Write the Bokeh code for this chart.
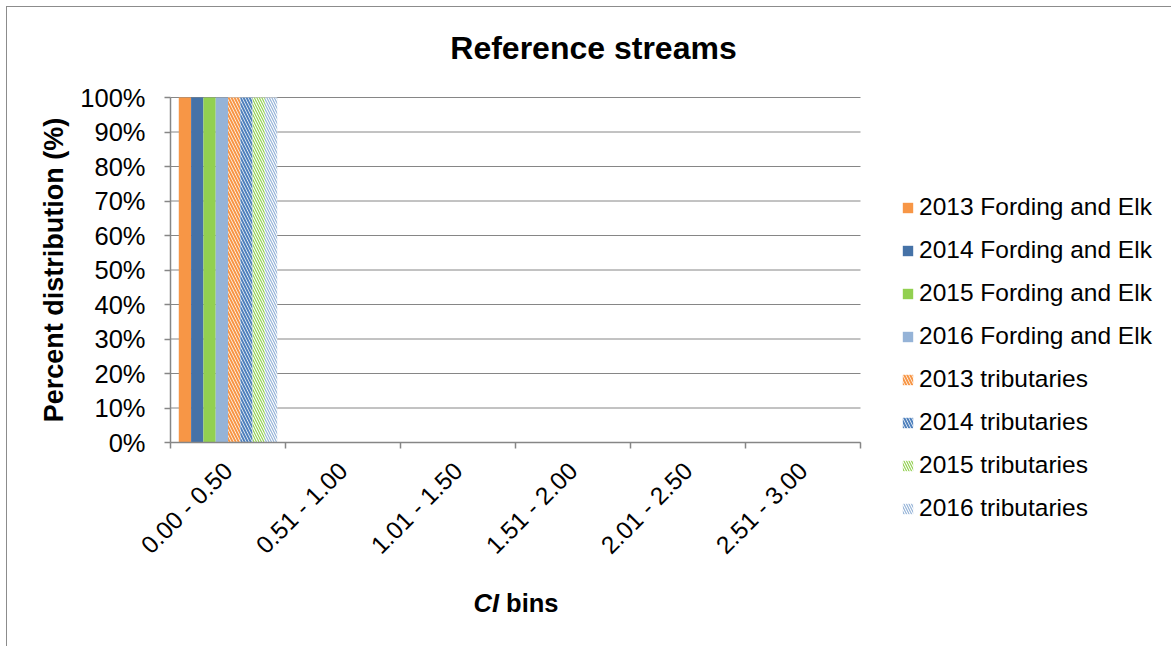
import math
from bokeh.plotting import figure
from bokeh.models import Range1d, FixedTicker, Legend, LegendItem, Label
from bokeh.embed import file_html
from bokeh.resources import INLINE

# ---------------- data ----------------
bins = ["0.00 - 0.50", "0.51 - 1.00", "1.01 - 1.50", "1.51 - 2.00", "2.01 - 2.50", "2.51 - 3.00"]
series_names = [
    "2013 Fording and Elk", "2014 Fording and Elk", "2015 Fording and Elk", "2016 Fording and Elk",
    "2013 tributaries", "2014 tributaries", "2015 tributaries", "2016 tributaries",
]
fe_2013 = [100, 0, 0, 0, 0, 0]
fe_2014 = [100, 0, 0, 0, 0, 0]
fe_2015 = [100, 0, 0, 0, 0, 0]
fe_2016 = [100, 0, 0, 0, 0, 0]
trib_2013 = [100, 0, 0, 0, 0, 0]
trib_2014 = [100, 0, 0, 0, 0, 0]
trib_2015 = [100, 0, 0, 0, 0, 0]
trib_2016 = [100, 0, 0, 0, 0, 0]
series_values = [fe_2013, fe_2014, fe_2015, fe_2016, trib_2013, trib_2014, trib_2015, trib_2016]
y_ticks = [0, 10, 20, 30, 40, 50, 60, 70, 80, 90, 100]
y_tick_labels = [f"{t}%" for t in y_ticks]
title_text = "Reference streams"
y_title = "Percent distribution (%)"

# ---------------- layout / styles ----------------
FONT = "Liberation Sans"
GRAY = "#868686"
styles = [
    dict(fill_color="#F79646"),
    dict(fill_color="#4572A7"),
    dict(fill_color="#92D050"),
    dict(fill_color="#95B3D7"),
    dict(fill_color="white", hatch_pattern="\\", hatch_color="#F79646", hatch_weight=2.0, hatch_scale=6),
    dict(fill_color="white", hatch_pattern="\\", hatch_color="#4F81BD", hatch_weight=2.0, hatch_scale=6),
    dict(fill_color="white", hatch_pattern="\\", hatch_color="#92D050", hatch_weight=1.2, hatch_scale=5),
    dict(fill_color="white", hatch_pattern="\\", hatch_color="#95B3D7", hatch_weight=1.2, hatch_scale=5),
]

OFF = 7                      # figure offset from page corner (outer chart border)
W, H = 1171 - OFF, 646 - OFF
# plot area in figure pixels
PL, PR, PT, PB = 170 - OFF, 860 - OFF, 97 - OFF, 442 - OFF
ncat = len(bins)
xpp = (PR - PL) / ncat                 # pixels per category
ypp = (PB - PT) / 100.0                # pixels per percent
x0 = -0.5 - PL / xpp
x1 = ncat - 0.5 + (W - PR) / xpp
y0 = 0 - (H - PB) / ypp
y1 = 100 + PT / ypp

p = figure(width=W, height=H, output_backend="svg", toolbar_location=None, title=None,
           x_range=Range1d(x0, x1), y_range=Range1d(y0, y1), min_border=0)
p.margin = (OFF, 0, 0, OFF)
p.outline_line_color = None
p.background_fill_color = "white"
p.border_fill_color = "white"
p.styles = {"outline": "1.5px solid #8c8c8c"}
p.xgrid.visible = False
p.ygrid.visible = False

# horizontal gridlines across the plot area only
p.segment(x0=[-0.5] * len(y_ticks), x1=[ncat - 0.5] * len(y_ticks), y0=y_ticks, y1=y_ticks,
          line_color=GRAY, line_width=1, level="underlay")

n = len(series_names)
bw = 0.107
xs = list(range(ncat))
items = []
for j, (name, vals, st) in enumerate(zip(series_names, series_values, styles)):
    off = bw * (j - (n - 1) / 2)
    r = p.vbar(x=[x + off for x in xs], top=vals, width=bw, bottom=0, line_color=None, **st)
    items.append(LegendItem(label=name, renderers=[r]))

# x axis (category ticks at the boundaries, labels centred)
xa = p.xaxis[0]
xa.fixed_location = 0
xa.bounds = (-0.5, ncat - 0.5)
xa.ticker = FixedTicker(ticks=xs, minor_ticks=[x - 0.5 for x in xs] + [ncat - 0.5])
xa.major_label_overrides = {i: b for i, b in enumerate(bins)}
xa.major_label_orientation = math.pi / 4
xa.major_tick_in = 0
xa.major_tick_out = 0
xa.minor_tick_in = 0
xa.minor_tick_out = 6
xa.minor_tick_line_color = GRAY
xa.minor_tick_line_width = 1.5
xa.axis_line_color = GRAY
xa.axis_line_width = 1.5
xa.major_label_text_font = FONT
xa.major_label_text_font_size = "24.5px"
xa.major_label_text_color = "black"
xa.major_label_standoff = 18

# y axis
ya = p.yaxis[0]
ya.fixed_location = -0.5
ya.bounds = (0, 100)
ya.ticker = FixedTicker(ticks=y_ticks, minor_ticks=[])
ya.major_label_overrides = {t: l for t, l in zip(y_ticks, y_tick_labels)}
ya.major_tick_in = 0
ya.major_tick_out = 6
ya.major_tick_line_color = GRAY
ya.major_tick_line_width = 1.5
ya.axis_line_color = GRAY
ya.axis_line_width = 1.5
ya.major_label_text_font = FONT
ya.major_label_text_font_size = "25.5px"
ya.major_label_text_color = "black"
ya.major_label_standoff = 19
ya.axis_label = y_title
ya.axis_label_text_font = FONT
ya.axis_label_text_font_size = "27px"
ya.axis_label_text_font_style = "bold"
ya.axis_label_text_color = "black"
ya.axis_label_standoff = 8

# chart title
p.add_layout(Label(x=593 - OFF, y=H - (47 - OFF), x_units="screen", y_units="screen",
                   text=title_text, text_align="center", text_baseline="middle",
                   text_font=FONT, text_font_size="32px", text_font_style="bold",
                   text_color="black"))

# x axis title "CI bins" (CI italic)
ty = H - (602 - OFF)
p.add_layout(Label(x=498.5 - OFF, y=ty, x_units="screen", y_units="screen", text="CI",
                   text_align="right", text_baseline="middle",
                   text_font=FONT, text_font_size="25.5px", text_font_style="bold italic",
                   text_color="black"))
p.add_layout(Label(x=505.6 - OFF, y=ty, x_units="screen", y_units="screen", text="bins",
                   text_align="left", text_baseline="middle",
                   text_font=FONT, text_font_size="25.5px", text_font_style="bold",
                   text_color="black"))

legend = Legend(items=items, location=(901 - OFF, H - (522 - OFF)))
legend.border_line_color = None
legend.background_fill_alpha = 0
legend.padding = 0
legend.margin = 0
legend.label_text_font = FONT
legend.label_text_font_size = "24.5px"
legend.label_text_color = "black"
legend.glyph_width = 13
legend.glyph_height = 13
legend.label_standoff = 5
legend.label_height = 24
legend.spacing = 15
p.add_layout(legend, "center")

open("out.html", "w").write(file_html(p, INLINE))
